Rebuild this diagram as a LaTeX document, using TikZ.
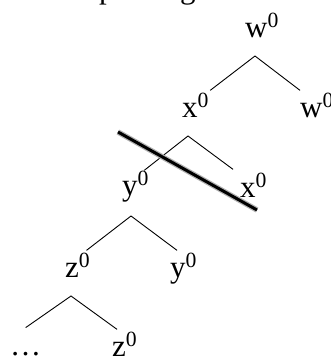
\documentclass[tikz,border=0pt]{standalone}
\usepackage{fontspec}
\setmainfont{Liberation Serif}
\newcommand{\zsup}[1]{#1\textsuperscript{0}}
\begin{document}
\begin{tikzpicture}[x=1pt, y=1pt,
  every node/.style={font=\fontsize{31}{31}\selectfont, inner sep=0pt, anchor=base west},
  branch/.style={line width=0.9pt},
  strike/.style={line width=3pt, preaction={draw, black!30, line width=5.5pt}}]
  \useasboundingbox (0,0) rectangle (331,-357);

  % heading, only its descenders are inside the page
  \node (head) at (99,2) {pruning};

  \node (w1) at (245,-37) {\zsup{w}};
  \node (x1) at (182,-117) {\zsup{x}};
  \node (w2) at (300,-117) {\zsup{w}};
  \node (y1) at (122,-195) {\zsup{y}};
  \node (x2) at (240,-197) {\zsup{x}};
  \node (z1) at (65,-277) {\zsup{z}};
  \node (y2) at (170,-277) {\zsup{y}};
  \node (dots) at (10,-355) {…};
  \node (z2) at (112,-356) {\zsup{z}};

  \coordinate (a1) at (255,-56);
  \coordinate (a2) at (188,-136);
  \coordinate (a3) at (131,-216);
  \coordinate (a4) at (71,-296);

  \draw[branch] ([shift={(1,3)}]x1.north east) -- (a1) -- ([shift={(0,3)}]w2.north west);
  \draw[branch] ([shift={(-5,1)}]y1.north east) -- (a2) -- ([shift={(-7,4)}]x2.north west);
  \draw[branch] ([shift={(-4,3)}]z1.north east) -- (a3) -- ([shift={(7,3)}]y2.north west);
  \draw[branch] ([yshift=24]dots.north) -- (a4) -- ([shift={(5,3)}]z2.north west);

  % the cut
  \draw[strike] (118,-132) -- (257,-210);
\end{tikzpicture}
\end{document}
